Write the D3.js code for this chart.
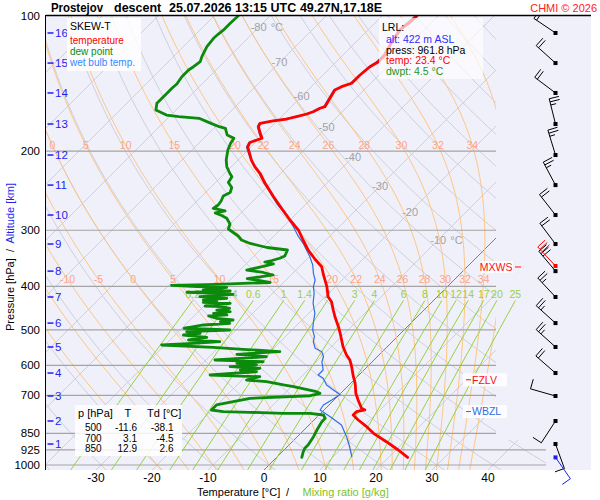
<!DOCTYPE html>
<html>
<head>
<meta charset="utf-8">
<title>SKEW-T Prostejov descent</title>
<script src="https://cdn.jsdelivr.net/npm/d3@7"></script>
<style>
  body { margin: 0; background: #fff; }
  svg { font-family: "Liberation Sans", Arial, sans-serif; }
</style>
</head>
<body>
<div id="chart"></div>
<script>
// ---- sounding data (pressure hPa, temperature degC) ----
const tempP = [100, 103.1, 107.4, 114.3, 122.1, 126.6, 129.7, 135.3, 141.2, 143.7,
  146.2, 152.5, 159.2, 160.5, 163.4, 165.3, 167.6, 169.6, 171.3, 173.4,
  176.4, 182.5, 187.2, 188.9, 191.3, 195.8, 201.9, 209.3, 216.6, 224.0,
  235.8, 252.6, 268.1, 284.7, 299.7, 315.4, 332.0, 347.7, 361.7, 377.4,
  400.8, 421.9, 432.8, 451.7, 467.5, 492.0, 509.0, 545.2, 568.9, 583.7,
  604.0, 635.8, 657.7, 692.3, 716.5, 747.7, 754.2, 760.8, 773.8, 793.9,
  821.7, 850.0, 887.4, 925.9, 961.8];
const tempT = [-53.8, -53.9, -54.3, -53.6, -52.5, -52.5, -53.1, -53.4, -53.4, -54.6,
  -55.2, -54.6, -54.0, -54.6, -55.2, -55.9, -57.3, -58.6, -60.7, -62.6,
  -62.3, -60.8, -59.6, -60.2, -61.0, -60.6, -59.2, -57.6, -55.8, -53.7,
  -51.0, -47.1, -43.6, -40.0, -36.7, -34.1, -31.4, -28.6, -26.0, -24.2,
  -21.5, -19.5, -18.0, -16.2, -14.7, -12.3, -10.8, -7.9, -5.8, -4.3,
  -2.8, -0.7, 0.8, 2.7, 4.3, 6.4, 7.3, 6.1, 6.1, 7.9,
  10.6, 13.0, 16.8, 20.4, 23.4];

const dewP = [100, 103.8, 107.4, 109.7, 112.1, 117.0, 123.2, 126.4, 129.7, 131.9,
  136.5, 141.7, 144.9, 148.6, 152.5, 156.5, 161.9, 166.2, 167.6, 169.0,
  172.8, 176.4, 177.9, 184.1, 187.2, 192.1, 198.8, 209.3, 216.6, 224.0,
  228.0, 234.9, 241.0, 247.2, 251.7, 258.2, 263.6, 268.1, 271.8, 274.6,
  278.2, 282.2, 290.6, 298.1, 303.5, 309.0, 315.4, 321.1, 327.8, 332.0,
  342.4, 346.4, 350.4, 353.1, 356.7, 361.3, 367.9, 372.6, 377.4, 381.3,
  384.3, 388.2, 392.2, 395.9, 397.9, 400.8, 402.0, 405.5, 407.6, 409.7,
  412.4, 414.6, 416.7, 419.7, 421.9, 425.3, 429.0, 431.2, 434.1, 436.4,
  442.5, 444.1, 447.7, 451.7, 455.6, 459.3, 463.3, 465.7, 471.3, 475.4,
  479.5, 483.5, 487.7, 496.0, 500.4, 504.8, 509.0, 513.4, 519.5, 526.7,
  531.4, 535.7, 540.4, 546.8, 552.4, 559.3, 563.9, 566.8, 573.8, 583.7,
  588.7, 593.6, 598.7, 604.0, 609.0, 614.3, 619.7, 630.3, 635.8, 646.7,
  652.3, 663.4, 669.2, 686.7, 692.3, 701.0, 710.3, 735.1, 754.2, 760.8,
  763.2, 767.1, 767.5, 773.8, 787.0, 800.9, 835.7, 864.9, 902.5, 917.9,
  934.1, 961.8];
const dewT = [-85.7, -85.8, -85.8, -86.0, -86.1, -85.8, -84.9, -84.3, -84.6, -84.9,
  -84.9, -84.5, -84.6, -84.6, -84.6, -84.6, -83.6, -80.8, -78.3, -74.4,
  -71.8, -69.3, -67.9, -66.4, -64.6, -64.3, -63.6, -62.1, -60.8, -59.1,
  -58.1, -57.7, -56.2, -55.6, -56.2, -55.7, -55.5, -55.8, -53.2, -54.6,
  -53.0, -51.6, -50.0, -49.4, -47.9, -46.4, -45.1, -42.9, -39.2, -35.1,
  -34.5, -35.0, -36.0, -37.0, -35.1, -36.5, -38.8, -35.4, -33.2, -35.2,
  -37.2, -34.9, -32.4, -41.6, -49.5, -44.7, -39.3, -40.8, -43.0, -38.0,
  -45.5, -40.0, -36.9, -39.6, -42.4, -37.3, -41.2, -38.6, -40.8, -35.8,
  -39.8, -36.7, -35.0, -37.0, -34.3, -37.0, -34.3, -37.4, -35.5, -32.3,
  -34.3, -32.3, -36.7, -39.6, -31.1, -38.5, -35.8, -38.5, -33.9, -36.7,
  -30.8, -35.3, -40.6, -31.0, -25.3, -18.3, -23.0, -25.5, -19.8, -28.4,
  -19.5, -23.9, -20.1, -24.5, -18.9, -22.1, -18.9, -26.6, -17.4, -19.2,
  -15.3, -11.7, -9.6, -4.6, -3.7, -5.0, -15.3, -20.1, -20.1, -17.7,
  -12.8, -6.7, -1.9, 0.8, 1.7, 1.7, 2.3, 2.9, 3.4, 3.4,
  3.75, 4.5];

const wbP = [100, 107, 114, 122, 127, 129.7, 141.2, 146.2, 159.2, 163.4,
  167.6, 171.3, 173.4, 176.4, 182.5, 187.2, 188.9, 191.3, 195.8, 201.9,
  209.3, 216.6, 224.0, 235.8, 244.1, 261.3, 272.8, 282.2, 294.6, 310.1,
  320.8, 332.0, 343.6, 358.6, 374.2, 387.2, 400.8, 414.6, 436.4, 459.3,
  483.5, 500.4, 517.9, 531.4, 549.6, 559.3, 573.8, 588.7, 614.3, 630.3,
  641.0, 663.4, 680.7, 696.5, 716.5, 735.1, 754.2, 780.5, 814.5, 864.9,
  914.1, 958.3];
const wbT = [-54.1, -54.5, -53.8, -52.8, -52.8, -53.3, -53.6, -55.4, -54.2, -55.4,
  -57.4, -60.8, -62.8, -62.5, -61.0, -59.8, -60.4, -61.2, -60.8, -59.4,
  -57.7, -55.9, -53.9, -51.2, -49.2, -45.4, -42.7, -40.6, -38.2, -35.5,
  -33.5, -31.7, -29.9, -27.9, -26.3, -24.8, -23.9, -22.6, -21.0, -18.9,
  -17.4, -16.3, -14.8, -14.1, -12.6, -10.8, -9.6, -9.0, -7.3, -7.3,
  -5.8, -4.0, -1.9, 0.1, -0.4, -1.0, -0.7, 2.3, 5.8, 8.8,
  11.3, 13.3];

// altitude ticks (km) and the pressure at which they sit
const altKm = [1, 2, 3, 4, 5, 6, 7, 8, 9, 10, 11, 12, 13, 14, 15, 16];
const altP = [898, 798, 702, 624, 546, 483, 422.5, 370, 322, 277.5, 238, 204, 174, 148.4, 127.3, 109.1];

// winds at every km
const windAlt = [16, 15, 14, 13, 12, 11, 10, 9, 8, 7, 6, 5, 4, 3, 2, 1];
const windDir = [304, 312, 307, 346, 343, 332, 322, 323, 320, 317, 312, 312, 311, 286, 213, 160];
const windSpd = [20, 20, 20, 25, 25, 25, 20, 20, 30, 25, 25, 25, 20, 10, 10, 10];
const mxws = { alt: 8.19, dir: 317, spd: 30 };
const sfcWind = { alt: 0.422, dir: 145, spd: 10 };

// lowest level and table values
const lrl = { alt: 422, p: 961.8, t: 23.4, td: 4.5 };
const tblP = ["500", "700", "850"];
const tblT = ["-11.6", "3.1", "12.9"];
const tblTd = ["-38.1", "-4.5", "2.6"];

// diagram furniture
const pLabels = [100, 200, 300, 400, 500, 600, 700, 850, 925, 1000];
const tempTicks = [-30, -20, -10, 0, 10, 20, 30, 40];
const isoLabT = [-80, -70, -60, -50, -40, -30, -20, -10];
const isoLabP = [106, 127, 151, 177, 206, 239, 273, 315];
const thetaW = [-20, -15, -10, -5, 0, 5, 10, 15, 20, 22, 24, 26, 28, 30, 32, 34, 36];
const mixW = [0.2, 0.4, 0.6, 1, 1.4, 2, 3, 4, 6, 8, 10, 12, 14, 17, 20, 25];

// ---- geometry ----
const LEFT = 46, RIGHT = 496, BGR = 591, TOP = 16, BOT = 470, BARB_X = 555.5;
const yP = d3.scaleLog().domain([100, 1000]).range([16, 465]);
const xT = d3.scaleLinear().domain([0, 10]).range([264, 320]);
const px = (T, p) => xT(T) + (BOT - yP(p));
const lineTP = d3.line().x(d => px(d[1], d[0])).y(d => yP(d[0]));

// thermodynamics for the background lines
const Rd = 287.04, Cp = 1005.7, Lv = 2.501e6, EPS = 0.622, KAP = Rd / Cp;
const es = Tk => 6.112 * Math.exp(17.67 * (Tk - 273.15) / (Tk - 29.65));
function dTdlnp(Tk, p) {
  const e = es(Tk), rs = EPS * e / (p - e);
  return (Rd * Tk + Lv * rs) / (Cp + Lv * Lv * rs * EPS / (Rd * Tk * Tk));
}
function moistCurve(thw) {
  function run(pEnd, h) {
    const out = [];
    let T = thw + 273.15, lp = Math.log(1000);
    const n = Math.ceil(Math.abs((Math.log(pEnd) - lp) / h));
    for (let i = 0; i < n; i++) {
      const k1 = dTdlnp(T, Math.exp(lp));
      const k2 = dTdlnp(T + h / 2 * k1, Math.exp(lp + h / 2));
      const k3 = dTdlnp(T + h / 2 * k2, Math.exp(lp + h / 2));
      const k4 = dTdlnp(T + h * k3, Math.exp(lp + h));
      T += h / 6 * (k1 + 2 * k2 + 2 * k3 + k4);
      lp += h;
      out.push([Math.exp(lp), T - 273.15]);
    }
    return out;
  }
  return run(1030, 0.01).reverse().concat([[1000, thw]], run(100, -0.01));
}
const pGrid = d3.range(0, 61).map(i => 1030 * Math.pow(100 / 1030, i / 60));
function interpAt(curve, p) {
  for (let i = 1; i < curve.length; i++) {
    const a = curve[i - 1], b = curve[i];
    if ((a[0] - p) * (b[0] - p) <= 0) {
      const f = (Math.log(p) - Math.log(a[0])) / (Math.log(b[0]) - Math.log(a[0]));
      return a[1] + f * (b[1] - a[1]);
    }
  }
  return null;
}
function mixTd(w, p) {
  const e = w * p / (622 + w), l = Math.log(e / 6.112);
  return 243.5 * l / (17.67 - l);
}
// first 0 degC crossing going up from the ground
function zeroLevel(P, T) {
  for (let i = P.length - 1; i > 0; i--) {
    if (T[i] >= 0 && T[i - 1] < 0) {
      const f = T[i] / (T[i] - T[i - 1]);
      return Math.exp(Math.log(P[i]) + f * (Math.log(P[i - 1]) - Math.log(P[i])));
    }
  }
  return null;
}

// ---- svg ----
const svg = d3.select("#chart").append("svg").attr("width", 600).attr("height", 500);
const defs = svg.append("defs");
defs.append("clipPath").attr("id", "diag").append("polygon")
  .attr("points", `${LEFT},${TOP} ${RIGHT},${TOP} ${RIGHT},440 546,440 546,${BOT} ${LEFT},${BOT}`);
defs.append("clipPath").attr("id", "plot").append("rect")
  .attr("x", LEFT).attr("y", TOP).attr("width", BGR - LEFT).attr("height", BOT - TOP);
defs.append("clipPath").attr("id", "barbclip").append("rect")
  .attr("x", 500).attr("y", TOP).attr("width", 100).attr("height", 500 - TOP);

svg.append("rect").attr("x", LEFT).attr("y", TOP).attr("width", BGR - LEFT).attr("height", BOT - TOP)
  .attr("fill", "#f0f0fb");

const grid = svg.append("g").attr("clip-path", "url(#diag)").attr("fill", "none");

// isotherms
d3.range(-130, 50, 10).forEach(T => {
  grid.append("path").datum([[1030, T], [100, T]]).attr("d", lineTP)
    .attr("stroke", T === 0 ? "#707070" : "#cfcfd8").attr("stroke-width", T === 0 ? 0.9 : 1);
});
// dry adiabats
d3.range(-50, 210, 10).forEach(th => {
  const pts = pGrid.map(p => [p, (th + 273.15) * Math.pow(p / 1000, KAP) - 273.15]);
  grid.append("path").datum(pts).attr("d", lineTP).attr("stroke", "#cfcfd8").attr("stroke-width", 1);
});
// moist adiabats
const moist = thetaW.map(t => ({ t, pts: moistCurve(t) }));
moist.forEach(m => {
  grid.append("path").datum(m.pts).attr("d", lineTP).attr("stroke", "#ffc47e").attr("stroke-width", 1);
});
// isobars
pLabels.slice(1).forEach(p => {
  grid.append("line").attr("x1", LEFT).attr("x2", 546).attr("y1", yP(p)).attr("y2", yP(p))
    .attr("stroke", "#a4a4a4").attr("stroke-width", 1.2);
});

// mixing ratio lines
const MIX_TOP = 430;
const mixG = svg.append("g").attr("clip-path", "url(#plot)");
mixW.forEach(w => {
  const pts = d3.range(0, 21).map(i => 1030 * Math.pow(MIX_TOP / 1030, i / 20)).map(p => [p, mixTd(w, p)]);
  mixG.append("path").datum(pts).attr("d", lineTP).attr("fill", "none")
    .attr("stroke", "#95d23c").attr("stroke-width", 1);
  mixG.append("text").attr("x", px(mixTd(w, MIX_TOP), MIX_TOP)).attr("y", yP(MIX_TOP) - 2.5)
    .attr("text-anchor", "middle").attr("font-size", "10.5px").attr("fill", "#98d040").text(w);
});

// theta-w labels
const labG = svg.append("g").attr("font-size", "10.5px").attr("fill", "#ffa385").attr("text-anchor", "middle");
[194, 386].forEach(lp => {
  moist.forEach(m => {
    const T = interpAt(m.pts, lp);
    const x = px(T, lp);
    if (x > 48 && x < 490) labG.append("text").attr("x", x).attr("y", yP(lp)).attr("dy", "0.35em").text(m.t);
  });
});
// isotherm labels
const isoG = svg.append("g").attr("font-size", "11px").attr("fill", "#a3a3a3");
isoLabT.forEach((T, i) => {
  const x = px(T, isoLabP[i]), y = yP(isoLabP[i]);
  isoG.append("text").attr("x", x).attr("y", y).attr("dy", "0.35em").attr("text-anchor", "middle").text(T);
  if (i === 0 || i === isoLabT.length - 1)
    isoG.append("text").attr("x", x + 12).attr("y", y).attr("dy", "0.35em").text("°C");
});

// ---- sounding curves ----
const curves = svg.append("g").attr("clip-path", "url(#plot)").attr("fill", "none")
  .attr("stroke-linejoin", "round").attr("stroke-linecap", "round");
curves.append("path").datum(d3.zip(wbP, wbT)).attr("d", lineTP).attr("stroke", "#2f6fe0").attr("stroke-width", 1.2);
curves.append("path").datum(d3.zip(dewP, dewT)).attr("d", lineTP).attr("stroke", "#0b8a0b").attr("stroke-width", 2.8);
curves.append("path").datum(d3.zip(tempP, tempT)).attr("d", lineTP).attr("stroke", "#ff0000").attr("stroke-width", 2.8);

// ---- frame ----
svg.append("line").attr("x1", LEFT).attr("x2", BGR).attr("y1", 15.5).attr("y2", 15.5).attr("stroke", "#000").attr("stroke-width", 1.3);
svg.append("line").attr("x1", LEFT - 0.5).attr("x2", LEFT - 0.5).attr("y1", 15).attr("y2", BOT).attr("stroke", "#000").attr("stroke-width", 1);

// pressure labels
svg.append("g").attr("font-size", "11.5px").attr("text-anchor", "end").selectAll("text")
  .data(pLabels).join("text").attr("x", 40).attr("y", d => yP(d)).attr("dy", "0.35em").text(d => d);

// altitude ticks
const altG = svg.append("g").attr("fill", "#1f1fef").attr("font-size", "11.5px");
altKm.forEach((a, i) => {
  const y = yP(altP[i]);
  altG.append("line").attr("x1", 47.5).attr("x2", 53.5).attr("y1", y).attr("y2", y).attr("stroke", "#1f1fef").attr("stroke-width", 1.5);
  altG.append("text").attr("x", 55).attr("y", y).attr("dy", "0.35em").text(a);
});

// temperature ticks
svg.append("g").attr("font-size", "12px").attr("text-anchor", "middle").selectAll("text")
  .data(tempTicks).join("text").attr("x", d => xT(d)).attr("y", 482).text(d => d);

// axis titles
svg.append("text").attr("x", 197).attr("y", 496).attr("font-size", "11px").text("Temperature [°C]");
svg.append("text").attr("x", 286).attr("y", 496).attr("font-size", "11px").text("/");
svg.append("text").attr("x", 302.5).attr("y", 496).attr("font-size", "11px").attr("fill", "#7cc424").text("Mixing ratio [g/kg]");
const yt = svg.append("text").attr("transform", "translate(14,257) rotate(-90)").attr("text-anchor", "middle")
  .attr("font-size", "11px").style("white-space", "pre");
yt.append("tspan").text("Pressure [hPa]  /  ");
yt.append("tspan").attr("fill", "#1f1fef").text("Altitude [km]");

// title
const tt = svg.append("g").attr("font-size", "12.5px").attr("font-weight", "bold");
tt.append("text").attr("x", 51).attr("y", 12).attr("textLength", 52).attr("lengthAdjust", "spacingAndGlyphs").text("Prostejov");
tt.append("text").attr("x", 114).attr("y", 12).text("descent");
tt.append("text").attr("x", 169).attr("y", 12).text("25.07.2026 13:15 UTC");
tt.append("text").attr("x", 300).attr("y", 12).attr("textLength", 82).attr("lengthAdjust", "spacing").text("49.27N,17.18E");
svg.append("text").attr("x", 597).attr("y", 11.5).attr("text-anchor", "end").attr("font-size", "11px")
  .attr("fill", "#ff2020").text("CHMI © 2026");

// legend box
svg.append("rect").attr("x", 67).attr("y", 18).attr("width", 74).attr("height", 53).attr("fill", "#fff").attr("opacity", 0.85);
const lg = svg.append("g").attr("font-size", "10px");
lg.append("text").attr("x", 70).attr("y", 30).attr("font-size", "10.5px").text("SKEW-T");
lg.append("text").attr("x", 70).attr("y", 44).attr("fill", "#ff0000").text("temperature");
lg.append("text").attr("x", 70).attr("y", 55).attr("fill", "#0b8a0b").text("dew point");
lg.append("text").attr("x", 70).attr("y", 66).attr("fill", "#3388ff").text("wet bulb temp.");

// LRL box (lets the curves show through, pale)
svg.append("rect").attr("x", 379).attr("y", 18).attr("width", 104).attr("height", 61).attr("fill", "#fff").attr("opacity", 0.68);
const lr = svg.append("g").attr("font-size", "10.5px");
lr.append("text").attr("x", 382).attr("y", 31).text("LRL:");
lr.append("text").attr("x", 386).attr("y", 43).attr("fill", "#2d2dff").text(`alt: ${lrl.alt} m ASL`);
lr.append("text").attr("x", 386).attr("y", 53.5).text(`press: ${lrl.p} hPa`);
lr.append("text").attr("x", 386).attr("y", 64).attr("fill", "#ff0000").text(`temp: ${lrl.t} °C`);
lr.append("text").attr("x", 386).attr("y", 74.5).attr("fill", "#1d961d").text(`dwpt: ${lrl.td} °C`);

// table box
svg.append("rect").attr("x", 75).attr("y", 405).attr("width", 107).attr("height", 51).attr("fill", "#fff").attr("opacity", 0.85);
const tb = svg.append("g").attr("font-size", "10px");
tb.append("text").attr("x", 78).attr("y", 417).attr("font-size", "11px").text("p [hPa]");
tb.append("text").attr("x", 124.5).attr("y", 417).attr("font-size", "11px").text("T");
tb.append("text").attr("x", 147).attr("y", 417).attr("font-size", "11px").text("Td [°C]");
tblP.forEach((p, i) => {
  const y = 431 + i * 10.6;
  tb.append("text").attr("x", 85).attr("y", y).text(p);
  tb.append("text").attr("x", 137).attr("y", y).attr("text-anchor", "end").text(tblT[i]);
  tb.append("text").attr("x", 173.5).attr("y", y).attr("text-anchor", "end").text(tblTd[i]);
});

// level markers
function levelMark(y, label, color, side) {
  const g = svg.append("g").attr("font-size", "10.5px");
  if (side === "left") {
    g.append("rect").attr("x", 463).attr("y", y - 6.5).attr("width", 44).attr("height", 13).attr("fill", "#fff").attr("opacity", 0.85);
    g.append("line").attr("x1", 466).attr("x2", 471).attr("y1", y).attr("y2", y).attr("stroke", color);
    g.append("text").attr("x", 472).attr("y", y).attr("dy", "0.36em").attr("fill", color).text(label);
  } else {
    g.append("rect").attr("x", 481).attr("y", y - 6).attr("width", 32).attr("height", 12).attr("fill", "#fff").attr("opacity", 0.85);
    g.append("text").attr("x", 512.5).attr("y", y).attr("dy", "0.36em").attr("text-anchor", "end").attr("fill", color).text(label);
    g.append("line").attr("x1", 515).attr("x2", 521).attr("y1", y).attr("y2", y).attr("stroke", color);
  }
}
const altY = d3.scaleLinear().domain([sfcWind.alt].concat(altKm)).range([yP(lrl.p)].concat(altP.map(yP)));
levelMark(yP(zeroLevel(tempP, tempT)), "FZLV", "#ff1010", "left");
levelMark(yP(zeroLevel(wbP, wbT)), "WBZL", "#2f6fe0", "left");
levelMark(altY(mxws.alt) + 1, "MXWS", "#ff1010", "right");

// ---- wind barbs ----
const bg = svg.append("g").attr("clip-path", "url(#barbclip)");
function barb(y, dir, spd, color) {
  const a = dir * Math.PI / 180;
  const ux = Math.sin(a), uy = -Math.cos(a);
  const nx = Math.cos(a), ny = Math.sin(a);
  const L = 26, gap = 3.2;
  const seg = (x1, y1, x2, y2) => bg.append("line").attr("x1", x1).attr("y1", y1).attr("x2", x2).attr("y2", y2)
    .attr("stroke", color).attr("stroke-width", 1);
  seg(BARB_X, y, BARB_X + ux * L, y + uy * L);
  const full = Math.floor(spd / 10), half = spd % 10 >= 5;
  let s = L;
  const feather = len => {
    const x0 = BARB_X + ux * s, y0 = y + uy * s;
    seg(x0, y0, x0 + nx * len, y0 + ny * len);
  };
  for (let i = 0; i < full; i++) { feather(10); s -= gap; }
  if (half) { if (full === 0) s -= gap; feather(5.5); }
  bg.append("rect").attr("x", BARB_X - 2).attr("y", y - 2).attr("width", 4).attr("height", 4).attr("fill", color);
}
windAlt.forEach((a, i) => barb(altY(a), windDir[i], windSpd[i], "#000"));
barb(altY(mxws.alt), mxws.dir, mxws.spd, "#ff0000");
barb(altY(sfcWind.alt), sfcWind.dir, sfcWind.spd, "#1f1fef");
</script>
</body>
</html>
